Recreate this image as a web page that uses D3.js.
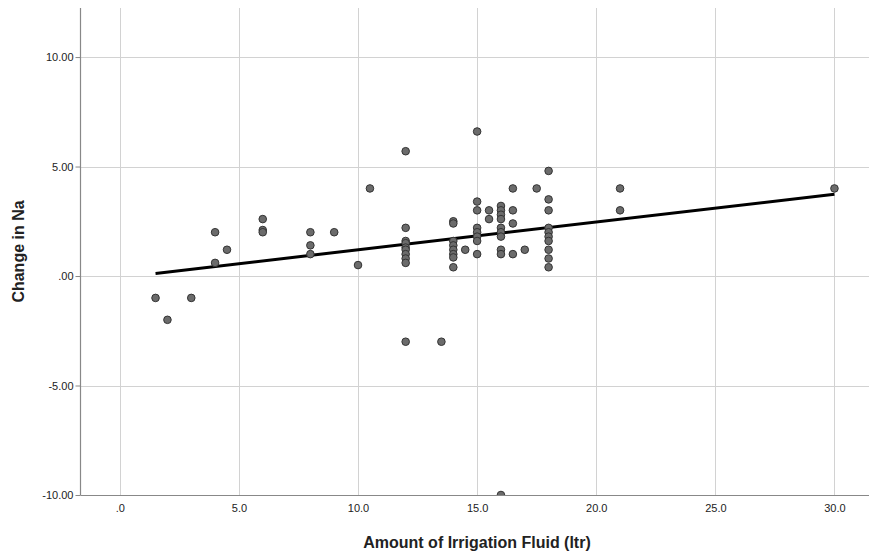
<!DOCTYPE html>
<html>
<head>
<meta charset="utf-8">
<script src="https://cdn.jsdelivr.net/npm/d3@7"></script>
<style>
  html, body { margin: 0; padding: 0; background: #fff; }
  svg { display: block; }
  text { font-family: "Liberation Sans", Arial, sans-serif; fill: #222; }
</style>
</head>
<body>
<svg id="chart" width="869" height="555"></svg>
<script>
// ---- data ----
const irrigation = [
  1.5, 2, 3, 4, 4, 4.5, 6, 6, 6, 8, 8, 8, 9, 10, 10.5,
  12, 12, 12, 12, 12, 12, 12, 12, 12, 12,
  13.5,
  14, 14, 14, 14, 14, 14, 14, 14,
  14.5,
  15, 15, 15, 15, 15, 15, 15, 15,
  15.5, 15.5,
  16, 16, 16, 16, 16, 16, 16, 16, 16, 16,
  16.5, 16.5, 16.5, 16.5,
  17, 17.5,
  18, 18, 18, 18, 18, 18, 18, 18, 18, 18,
  21, 21, 30
];
const changeNa = [
  -1, -2, -1, 2.0, 0.6, 1.2, 2.6, 2.1, 2.0, 2.0, 1.4, 1.0, 2.0, 0.5, 4.0,
  5.7, 2.2, 1.6, 1.5, 1.3, 1.2, 1.0, 0.8, 0.6, -3.0,
  -3.0,
  2.5, 2.4, 1.6, 1.4, 1.2, 1.0, 0.85, 0.4,
  1.2,
  6.6, 3.4, 3.0, 2.2, 2.0, 1.8, 1.6, 1.0,
  3.0, 2.6,
  3.2, 3.0, 2.8, 2.6, 2.2, 2.0, 1.8, 1.2, 1.0, -10,
  4.0, 3.0, 2.4, 1.0,
  1.2, 4.0,
  4.8, 3.5, 3.0, 2.2, 2.0, 1.8, 1.6, 1.2, 0.8, 0.4,
  4.0, 3.0, 4.0
];
// linear fit line
const fitIntercept = -0.07;
const fitSlope = 0.1267;

const xTicks = [0, 5, 10, 15, 20, 25, 30];
const xTickLabels = [".0", "5.0", "10.0", "15.0", "20.0", "25.0", "30.0"];
const yTicks = [10, 5, 0, -5, -10];
const yTickLabels = ["10.00", "5.00", ".00", "-5.00", "-10.00"];
const xTitle = "Amount of Irrigation Fluid (ltr)";
const yTitle = "Change in Na";

// ---- layout ----
const svg = d3.select("#chart");
const pLeft = 80.5, pRight = 869, pTop = 8, pBottom = 495;

const x = d3.scaleLinear().domain([-1.65, 31.45]).range([pLeft, pRight]);
const y = d3.scaleLinear().domain([-10, 12.24]).range([pBottom, pTop]);

// clip
svg.append("defs").append("clipPath").attr("id", "plotclip")
  .append("rect").attr("x", pLeft).attr("y", pTop)
  .attr("width", pRight - pLeft).attr("height", pBottom - pTop);

// gridlines
const grid = svg.append("g");
grid.selectAll("line.gx").data(xTicks).join("line")
  .attr("x1", d => Math.round(x(d)) + 0.5).attr("x2", d => Math.round(x(d)) + 0.5)
  .attr("y1", pTop).attr("y2", pBottom)
  .attr("stroke", "#d2d2d2").attr("stroke-width", 1);
grid.selectAll("line.gy").data(yTicks).join("line")
  .attr("y1", d => Math.round(y(d)) + 0.5).attr("y2", d => Math.round(y(d)) + 0.5)
  .attr("x1", pLeft).attr("x2", pRight)
  .attr("stroke", "#d2d2d2").attr("stroke-width", 1);

// axes
const xAxis = d3.axisBottom(x).tickValues(xTicks)
  .tickFormat((d, i) => xTickLabels[i]).tickSize(0).tickPadding(9);
const yAxis = d3.axisLeft(y).tickValues(yTicks)
  .tickFormat((d, i) => yTickLabels[i]).tickSize(5).tickPadding(2);

const gx = svg.append("g").attr("transform", `translate(0,${pBottom + 0.5})`).call(xAxis);
gx.select(".domain").remove();
gx.selectAll("text").attr("font-size", 11).attr("fill", "#222")
  .attr("font-family", "'Liberation Sans', Arial, sans-serif");

const gy = svg.append("g").attr("transform", `translate(${pLeft},0)`).call(yAxis);
gy.select(".domain").remove();
gy.selectAll(".tick line").attr("stroke", "#888");
gy.selectAll("text").attr("font-size", 11).attr("fill", "#222")
  .attr("font-family", "'Liberation Sans', Arial, sans-serif");

// axis lines
svg.append("line").attr("x1", pLeft).attr("x2", pLeft).attr("y1", pTop).attr("y2", pBottom)
  .attr("stroke", "#888").attr("stroke-width", 1.2);
svg.append("line").attr("x1", pLeft).attr("x2", pRight).attr("y1", pBottom + 0.5).attr("y2", pBottom + 0.5)
  .attr("stroke", "#888").attr("stroke-width", 1.2);

// points
const pts = irrigation.map((v, i) => ({ x: v, y: changeNa[i] }));
const plot = svg.append("g").attr("clip-path", "url(#plotclip)");

// fit line
const xr = d3.extent(irrigation);
plot.append("line")
  .attr("x1", x(xr[0])).attr("y1", y(fitIntercept + fitSlope * xr[0]))
  .attr("x2", x(xr[1])).attr("y2", y(fitIntercept + fitSlope * xr[1]))
  .attr("stroke", "#000").attr("stroke-width", 3);

plot.selectAll("circle").data(pts).join("circle")
  .attr("cx", d => x(d.x)).attr("cy", d => y(d.y)).attr("r", 3.8)
  .attr("fill", "#6b6b6b").attr("stroke", "#333").attr("stroke-width", 1);

// titles
svg.append("text").attr("x", 477).attr("y", 548).attr("text-anchor", "middle")
  .attr("font-size", 16).attr("font-weight", "bold").text(xTitle);
svg.append("text").attr("transform", `translate(24,${(pTop + pBottom) / 2}) rotate(-90)`)
  .attr("text-anchor", "middle").attr("font-size", 16).attr("font-weight", "bold").text(yTitle);
</script>
</body>
</html>
